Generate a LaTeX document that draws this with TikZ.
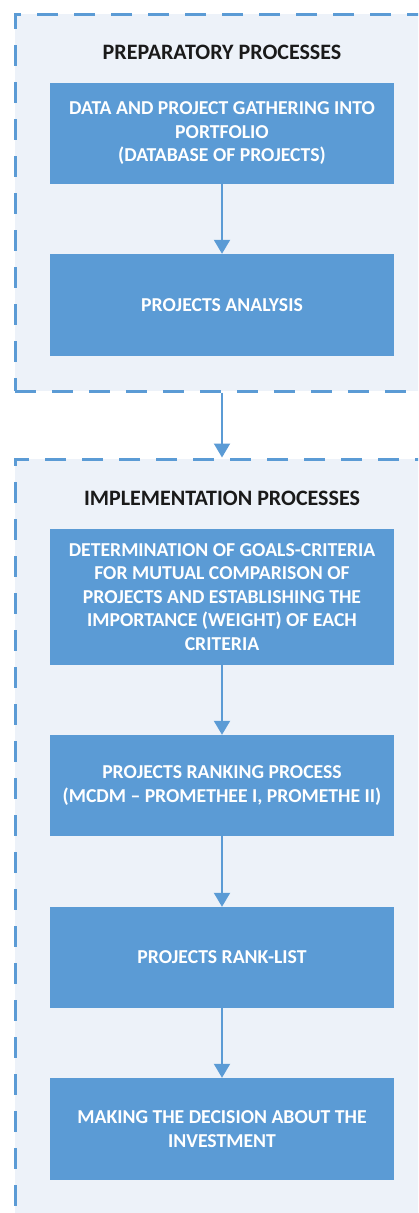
\documentclass[tikz,border=0pt]{standalone}
\usepackage{fontspec}
\setmainfont{Carlito}
\usetikzlibrary{arrows.meta}
\definecolor{boxblue}{HTML}{5B9BD5}
\definecolor{dashblue}{HTML}{5B9BD5}
\definecolor{bglight}{HTML}{EDF2F9}
\definecolor{titleblack}{HTML}{1A1A1A}
\tikzset{
  procbox/.style={draw=none, fill=boxblue, text=white, font=\fontsize{19.7}{23.5}\selectfont\bfseries,
    align=center, minimum width=344pt, inner sep=0pt, anchor=center},
  grp/.style={draw=dashblue, fill=bglight, line width=3pt, dash pattern=on 21pt off 16pt,
    inner sep=0pt, anchor=center},
  grptitle/.style={text=titleblack, font=\fontsize{22}{26}\selectfont\bfseries, anchor=center, inner sep=0pt},
  arr/.style={draw=boxblue, line width=2pt, -{Triangle[width=16pt,length=14pt]}}
}
\begin{document}
\begin{tikzpicture}[x=1pt,y=-1pt]
\clip (0,0) rectangle (418,1213);
\fill[white] (0,0) rectangle (418,1213);
% groups
\node[grp, minimum width=425pt, minimum height=377pt] (g1) at (227.5,202.5) {};
\node[grp, minimum width=425pt, minimum height=755pt] (g2) at (227.5,836.5) {};
% titles
\node[grptitle] (t1) at (222,52) {PREPARATORY PROCESSES};
\node[grptitle] (t2) at (222,498) {IMPLEMENTATION PROCESSES};
% boxes
\node[procbox, minimum height=101pt] (b1) at (222,133.5) {DATA AND PROJECT GATHERING INTO\\PORTFOLIO\\(DATABASE OF PROJECTS)};
\node[procbox, minimum height=102pt] (b2) at (222,305) {PROJECTS ANALYSIS};
\node[procbox, minimum height=136pt] (b3) at (222,597) {DETERMINATION OF GOALS-CRITERIA\\FOR MUTUAL COMPARISON OF\\PROJECTS AND ESTABLISHING THE\\IMPORTANCE (WEIGHT) OF EACH\\CRITERIA};
\node[procbox, minimum height=101pt] (b4) at (222,785.5) {PROJECTS RANKING PROCESS\\(MCDM – PROMETHEE I, PROMETHE II)};
\node[procbox, minimum height=101pt] (b5) at (222,957.5) {PROJECTS RANK-LIST};
\node[procbox, minimum height=102pt] (b6) at (222,1129) {MAKING THE DECISION ABOUT THE\\INVESTMENT};
% arrows
\draw[arr] (b1) -- (b2);
\draw[arr] (g1.south -| b2.south) -- (g2.north -| b2.south);
\draw[arr] (b3) -- (b4);
\draw[arr] (b4) -- (b5);
\draw[arr] (b5) -- (b6);
\end{tikzpicture}
\end{document}
